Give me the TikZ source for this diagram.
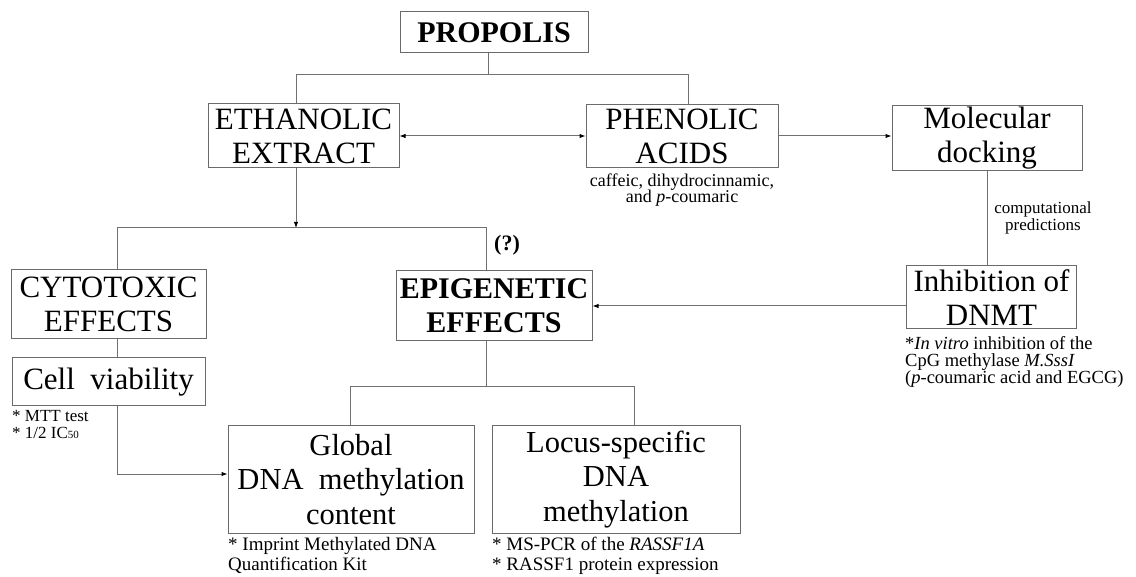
\documentclass[tikz,border=0pt]{standalone}
\usepackage{fontspec}
\setmainfont{Liberation Serif}
\usetikzlibrary{arrows.meta}
\definecolor{boxgray}{HTML}{6A6A6A}
\definecolor{linegray}{HTML}{707070}
\begin{document}
\begin{tikzpicture}[x=1pt,y=-1pt,
  box/.style={draw=boxgray, line width=1pt, inner sep=0pt, align=center, font=\fontsize{31}{34}\selectfont},
  boxb/.style={box, font=\bfseries\fontsize{30}{34}\selectfont},
  boxc/.style={box, font=\fontsize{30.5}{34.5}\selectfont},
  conn/.style={draw=linegray, line width=1pt},
  arr/.style={conn, -{Latex[length=6pt,width=4.5pt,color=black]}},
  darr/.style={conn, {Latex[length=6pt,width=4.5pt,color=black]}-{Latex[length=6pt,width=4.5pt,color=black]}},
  capc/.style={inner sep=0pt, align=center},
  capl/.style={inner sep=0pt, align=left},
]
\useasboundingbox (0,0) rectangle (1136,577);

% boxes
\node[boxb, minimum width=188pt, minimum height=41pt] (prop) at (494,32.5) {PROPOLIS};
\node[box, minimum width=191pt, minimum height=64pt] (eth) at (303.5,136) {ETHANOLIC\\EXTRACT};
\node[box, minimum width=192pt, minimum height=63pt] (phen) at (682,136) {PHENOLIC\\ACIDS};
\node[box, minimum width=190pt, minimum height=65pt] (mol) at (987,138.5) {Molecular\\docking};
\node[box, minimum width=195pt, minimum height=69pt] (cyto) at (108.5,304.5) {CYTOTOXIC\\EFFECTS};
\node[boxb, minimum width=196pt, minimum height=70pt] (epi) at (494,306) {EPIGENETIC\\EFFECTS};
\node[box, minimum width=170pt, minimum height=63pt] (inh) at (991.5,297.5) {Inhibition of\\DNMT};
\node[box, minimum width=193pt, minimum height=48pt] (cell) at (108.5,382) {Cell\ \ viability};
\node[boxc, minimum width=246pt, minimum height=107pt] (glob) at (351,479.5) {Global\\DNA\ \ methylation\\content};
\node[boxc, minimum width=248pt, minimum height=107pt] (locus) at (616,479.5) {Locus-specific\\DNA\\methylation};

% captions
\node[capc, anchor=north, font=\fontsize{18}{16.5}\selectfont] (phencap) at (682,173.5) {caffeic, dihydrocinnamic,\\and \textit{p}-coumaric};
\node[capc, anchor=north, font=\fontsize{17}{16.5}\selectfont] (comp) at (1043,202) {computational\\predictions};
\node[capl, anchor=north west, font=\fontsize{18.5}{16.3}\selectfont] (inhcap) at (905,336.5) {*\textit{In vitro} inhibition of the\\CpG methylase \textit{M.SssI}\\(\textit{p}-coumaric acid and EGCG)};
\node[capl, anchor=north west, font=\fontsize{17}{16.5}\selectfont] (cellcap) at (12,410.5) {* MTT test\\* 1/2 IC{\fontsize{11}{11}\selectfont 50}};
\node[capl, anchor=north west, font=\fontsize{19}{20}\selectfont] (globcap) at (228,537) {* Imprint Methylated DNA\\Quantification Kit};
\node[capl, anchor=north west, font=\fontsize{19}{20}\selectfont] (locuscap) at (492,537) {* MS-PCR of the \textit{RASSF1A}\\* RASSF1 protein expression};
\node[inner sep=0pt, font=\bfseries\fontsize{22}{22}\selectfont] (q) at (507,245) {(?)};

% junction coordinates
\coordinate (pm) at (488,75);
\coordinate (pl) at (296,75);
\coordinate (pr) at (688,75);
\coordinate (em) at (296,228);
\coordinate (el) at (117,228);
\coordinate (er) at (486,228);
\coordinate (gl) at (117,474);
\coordinate (gm) at (486,387);
\coordinate (gll) at (350,387);
\coordinate (glr) at (634,387);

% connectors
\draw[conn] (prop.south -| pm) -- (pm);
\draw[conn] (eth.north -| pl) -- (pl) -- (pr) -- (phen.north -| pr);
\draw[darr] (eth.east) -- (phen.west);
\draw[arr] (phen.east) -- (mol.west |- phen.east);
\draw[arr] (eth.south -| em) -- (em);
\draw[conn] (cyto.north -| el) -- (el) -- (er) -- (epi.north -| er);
\draw[conn] (mol.south) -- (mol.south |- inh.north);
\draw[arr] (inh.west |- epi.east) -- (epi.east);
\draw[conn] (cyto.south -| el) -- (cell.north -| el);
\draw[arr] (cell.south -| gl) -- (gl) -- (glob.west |- gl);
\draw[conn] (epi.south -| gm) -- (gm);
\draw[conn] (glob.north -| gll) -- (gll) -- (glr) -- (locus.north -| glr);
\end{tikzpicture}
\end{document}
